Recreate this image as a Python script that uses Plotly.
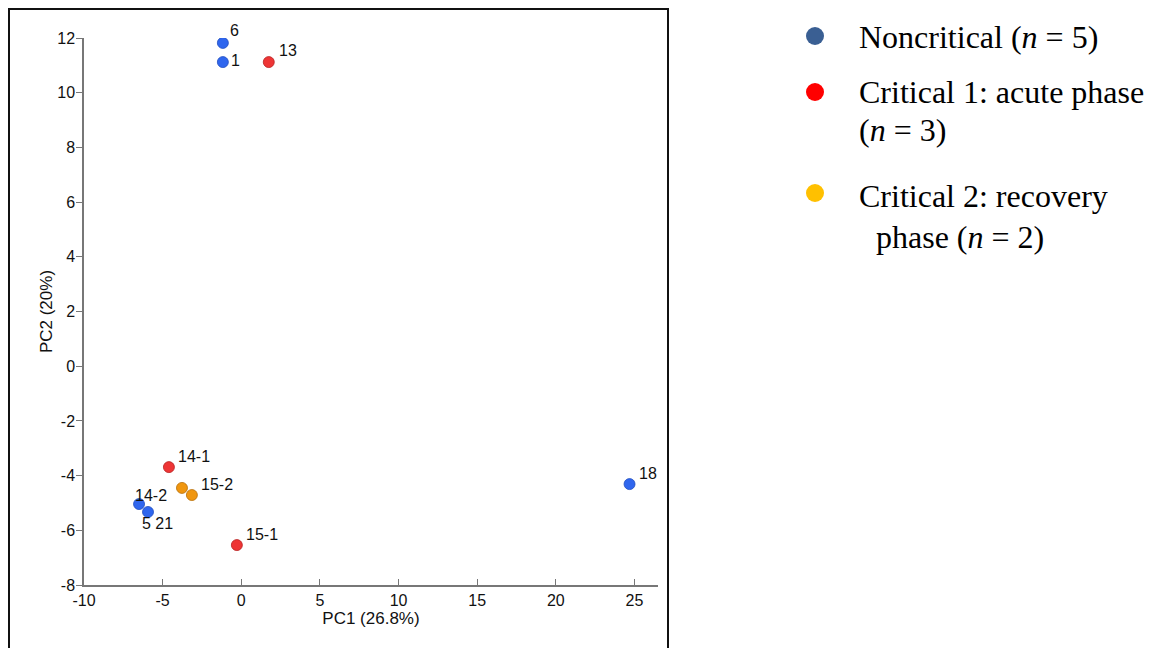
import plotly.graph_objects as go

# ---- data ----
labels = ["6", "1", "13", "14-1", "15-2a", "15-2", "14-2", "5 21", "15-1", "18"]
pc1 = [-1.17, -1.17, 1.75, -4.6, -3.77, -3.14, -6.5, -5.93, -0.28, 24.69]
pc2 = [11.82, 11.12, 11.12, -3.69, -4.45, -4.71, -5.04, -5.33, -6.54, -4.31]
group = ["non", "non", "acute", "acute", "recov", "recov", "non", "non", "acute", "non"]
shown_label = ["6", "1", "13", "14-1", "", "15-2", "14-2", "5 21", "15-1", "18"]

group_colors = {"non": "#2f66ee", "acute": "#ee3535", "recov": "#f0960f"}
group_lines = {"non": "#1f4cc0", "acute": "#b82020", "recov": "#b86e08"}

legend_names = ["Noncritical (<i>n</i> = 5)",
                "Critical 1: acute phase",
                "(<i>n</i> = 3)",
                "Critical 2: recovery",
                "phase (<i>n</i> = 2)"]
legend_colors = ["#3a5f93", "#ff0000", "#ffc000"]

x_ticks = [-10, -5, 0, 5, 10, 15, 20, 25]
x_ticktext = ["-10", "-5", "0", "5", "10", "15", "20", "25"]
y_ticks = [-8, -6, -4, -2, 0, 2, 4, 6, 8, 10, 12]
y_ticktext = ["-8", "-6", "-4", "-2", "0", "2", "4", "6", "8", "10", "12"]

# ---- layout geometry (screen pixels; page body has an 8px margin) ----
OFF = 8
W, H = 1153 - OFF, 648 - OFF
L, R, T, B = 84, 658, 38, 585  # plot area in screen pixels


def px(xp):
    return (xp - L) / (R - L)


def py(yp):
    return (B - yp) / (B - T)


fig = go.Figure()

for g in ["non", "acute", "recov"]:
    idx = [i for i, gg in enumerate(group) if gg == g]
    fig.add_trace(go.Scatter(
        x=[pc1[i] for i in idx], y=[pc2[i] for i in idx],
        mode="markers",
        marker=dict(size=11, color=group_colors[g],
                    line=dict(color=group_lines[g], width=0.8)),
        showlegend=False, hoverinfo="x+y",
    ))

# point label offsets (pixels)
offs = {
    "6": (5, 12, "left"), "1": (6, 2, "left"), "13": (8, 12, "left"),
    "14-1": (7, 11, "left"), "15-2": (7, 11, "left"), "14-2": (-6, 9, "left"),
    "5 21": (-8, -12, "left"), "15-1": (7, 11, "left"), "18": (7, 11, "left"),
}
annotations = []
for i, lab in enumerate(shown_label):
    if not lab:
        continue
    dx, dy, anc = offs[lab]
    annotations.append(dict(
        x=pc1[i], y=pc2[i], xref="x", yref="y", text=lab, showarrow=False,
        xanchor=anc, yanchor="middle", xshift=dx, yshift=dy,
        font=dict(family="Liberation Sans, Arial", size=16, color="#111"),
    ))

# custom legend
leg_rows = [(857, 37), (857, 92), (857, 130), (857, 196), (874, 237)]
for (xp, yp), txt in zip(leg_rows, legend_names):
    annotations.append(dict(
        x=px(xp), y=py(yp), xref="paper", yref="paper", text=txt,
        showarrow=False, xanchor="left", yanchor="middle",
        font=dict(family="Liberation Serif, Times New Roman", size=32, color="#000"),
    ))

shapes = []
for yp, c in zip([36, 92, 193], legend_colors):
    shapes.append(dict(
        type="circle", xref="paper", yref="paper",
        xsizemode="pixel", ysizemode="pixel",
        xanchor=px(815), yanchor=py(yp),
        x0=-9, x1=9, y0=-9, y1=9,
        fillcolor=c, line=dict(width=0),
    ))

# outer frame
shapes.append(dict(
    type="rect", xref="paper", yref="paper",
    x0=px(9), x1=px(668), y0=py(700), y1=py(9),
    line=dict(color="#111", width=2), fillcolor="rgba(0,0,0,0)",
))

fig.update_layout(
    width=W, height=H,
    margin=dict(l=L - OFF, r=W - (R - OFF), t=T - OFF, b=H - (B - OFF), pad=0),
    paper_bgcolor="white", plot_bgcolor="white",
    showlegend=False,
    annotations=annotations, shapes=shapes,
    font=dict(family="Liberation Sans, Arial", size=16, color="#111"),
    xaxis=dict(
        range=[-10, 26.5], tickvals=x_ticks, ticktext=x_ticktext,
        ticks="inside", ticklen=6,
        tickcolor="#777", showline=True, linecolor="#777", linewidth=1.5,
        showgrid=False, zeroline=False, mirror=False,
        title=dict(text="PC1 (26.8%)", standoff=2, font=dict(size=17)),
        tickfont=dict(size=16),
    ),
    yaxis=dict(
        range=[-8, 12], tickvals=y_ticks, ticktext=y_ticktext,
        ticks="outside", ticklen=6, ticklabelstandoff=-2,
        tickcolor="#777", showline=True, linecolor="#777", linewidth=1.5,
        showgrid=False, zeroline=False, mirror=False,
        title=dict(text="PC2 (20%)", standoff=0, font=dict(size=17)),
        tickfont=dict(size=16),
    ),
)

fig.write_html("out.html")
